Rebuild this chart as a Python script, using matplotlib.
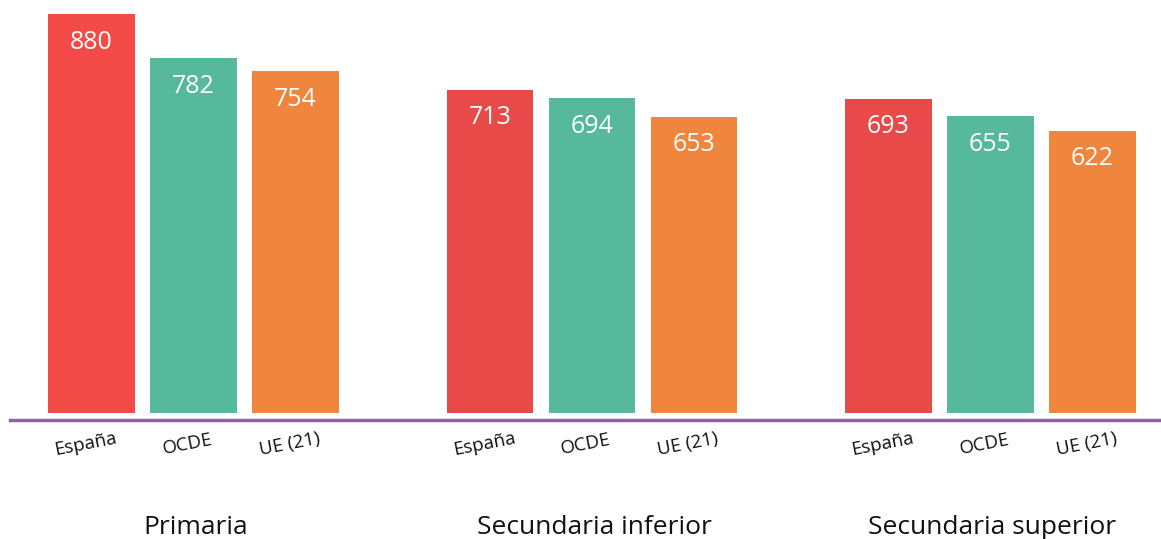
import numpy as np
import matplotlib
matplotlib.use("Agg")
import matplotlib.pyplot as plt

plt.rcParams['font.family'] = ['Open Sans', 'DejaVu Sans']

# data
niveles = ["Primaria", "Secundaria inferior", "Secundaria superior"]
paises = ["España", "OCDE", "UE (21)"]
espana = [880, 713, 693]
ocde = [782, 694, 655]
ue21 = [754, 653, 622]

colores_espana = ["#F24B48", "#E84A4A", "#E84A4A"]
color_ocde = "#56B99C"
color_ue = "#F0863D"

fig = plt.figure(figsize=(11.61, 5.39), dpi=100)
ax = fig.add_axes([0, 114 / 539, 1, 425 / 539])

px = 0.4534  # pixels per unit on y
ax.set_ylim(-12 / px, (425 - 12) / px)
ax.set_xlim(-191.5 / 398.5, (1161 - 191.5) / 398.5)

grupos = np.arange(len(niveles))
offsets = [-0.256, 0.0, 0.256]
ancho = 0.217

series = [espana, ocde, ue21]
for i, valores in enumerate(series):
    for g in grupos:
        if i == 0:
            c = colores_espana[g]
        elif i == 1:
            c = color_ocde
        else:
            c = color_ue
        x = g + 0.005 + offsets[i]
        ax.bar(x, valores[g], width=ancho, color=c)
        ax.text(x, valores[g] - 28 / px, str(valores[g]), ha="center", va="center",
                color="white", fontsize=18)
        ax.text(x - 0.015, -31 / px, paises[i], ha="center", va="center",
                rotation=11, fontsize=13.5, color="#111111")

for g in grupos:
    ax.text(g + 0.01, -114 / px, niveles[g], ha="center", va="center",
            fontsize=19, color="#111111")

ax.axhline(-15.4, xmin=10 / 1161, xmax=1, color="#8B64A8", linewidth=2.5)

ax.axis("off")
fig.savefig("out.png", dpi=100)
